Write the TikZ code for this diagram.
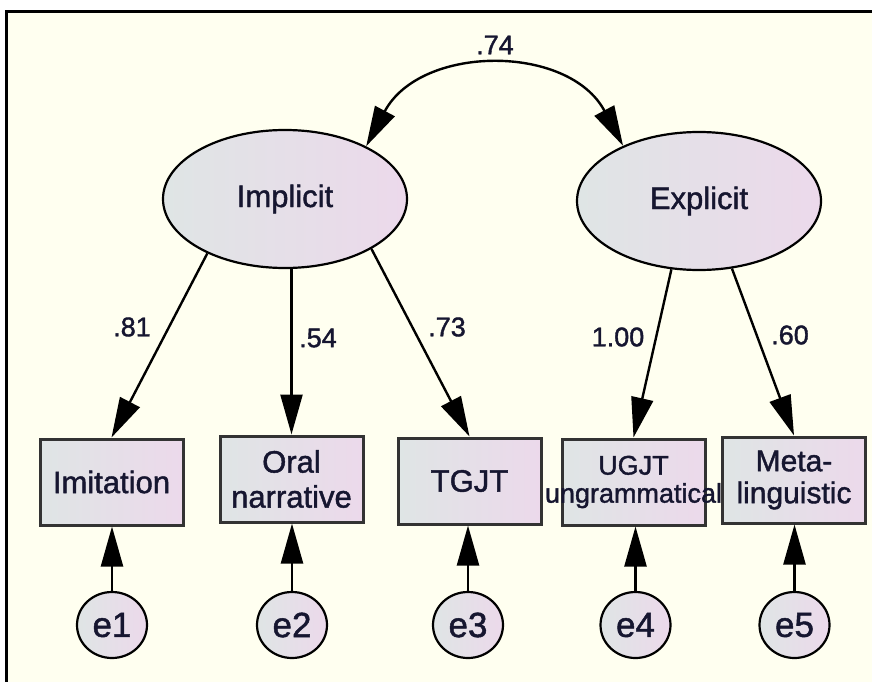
\documentclass[tikz,border=0pt]{standalone}
\usepackage{fontspec}
\setmainfont[FakeBold=1.4]{Liberation Sans}
\usetikzlibrary{arrows.meta,shapes.geometric}

\definecolor{paper}{RGB}{255,255,240}
\definecolor{fillL}{RGB}{223,229,229}
\definecolor{fillR}{RGB}{236,217,235}
\definecolor{ink}{RGB}{22,22,48}

\begin{document}
\begin{tikzpicture}[x=1pt,y=1pt,
  latent/.style={ellipse,draw=black,line width=2.2pt,left color=fillL,right color=fillR,
    minimum width=244pt,minimum height=138pt,inner sep=0pt,
    font=\fontsize{31}{35}\selectfont,text=ink},
  observed/.style={rectangle,draw=black!80,line width=3pt,left color=fillL,right color=fillR,
    minimum width=143pt,minimum height=86pt,inner sep=0pt,align=center,
    font=\fontsize{31}{35}\selectfont,text=ink},
  errvar/.style={ellipse,draw=black,line width=2.2pt,left color=fillL,right color=fillR,
    minimum width=70pt,minimum height=66pt,inner sep=0pt,
    font=\fontsize{35}{36}\selectfont,text=ink},
  reg/.style={line width=2.4pt,-{Triangle[length=40pt,width=22pt]}},
  coef/.style={font=\fontsize{27}{30}\selectfont,text=ink}
]
\useasboundingbox (0,0) rectangle (872,-682);

% sheet with its frame, running off the right and bottom edges
\begin{scope}
  \clip (0,0) rectangle (872,-682);
  \draw[line width=3pt,fill=paper] (6,-12) rectangle (960,-760);
\end{scope}

% latent factors
\node[latent] (imp) at (285,-199) {Implicit};
\node[latent] (exp) at (699,-201) {Explicit};

% observed measures
\node[observed] (imit) at (111.5,-482) {Imitation};
\node[observed] (oral) at (291.5,-479) {Oral\\narrative};
\node[observed] (tgjt) at (469.5,-481) {TGJT};
\node[observed,font=\fontsize{27}{28}\selectfont] (ugjt) at (633.5,-482)
  {UGJT\\\makebox[0pt]{ungrammatical}};
\node[observed,font=\fontsize{30}{32}\selectfont] (meta) at (794,-480) {Meta-\\linguistic};

% error terms
\node[errvar] (e1) at (112,-625) {e1};
\node[errvar] (e2) at (292,-625) {e2};
\node[errvar] (e3) at (468,-625) {e3};
\node[errvar] (e4) at (635.5,-625) {e4};
\node[errvar] (e5) at (794.5,-625) {e5};

% factor covariance
\draw[line width=2.4pt,{Triangle[length=40pt,width=22pt]}-{Triangle[length=40pt,width=22pt]}]
  (imp.33) to[out=62,in=118,looseness=1.15] (exp.144);
\node[coef] (r12) at (495,-45) {.74};

% loadings
\draw[reg] (imp.215) -- (imit.north);
\draw[reg] (oral.north |- imp.south) -- (oral.north);
\draw[reg] (imp.330) -- (tgjt.north);
\draw[reg] (exp.248) -- (ugjt.north);
\draw[reg] (exp.296) -- (meta.north);

\node[coef] (l1) at (132,-327) {.81};
\node[coef] (l2) at (318,-338) {.54};
\node[coef] (l3) at (447,-327) {.73};
\node[coef] (l4) at (618,-337) {1.00};
\node[coef] (l5) at (790,-335) {.60};

% residual paths
\foreach \e/\m in {e1/imit,e2/oral,e3/tgjt,e4/ugjt,e5/meta}
  \draw[reg] (\e.north) -- (\e.north |- \m.south);
\end{tikzpicture}
\end{document}
